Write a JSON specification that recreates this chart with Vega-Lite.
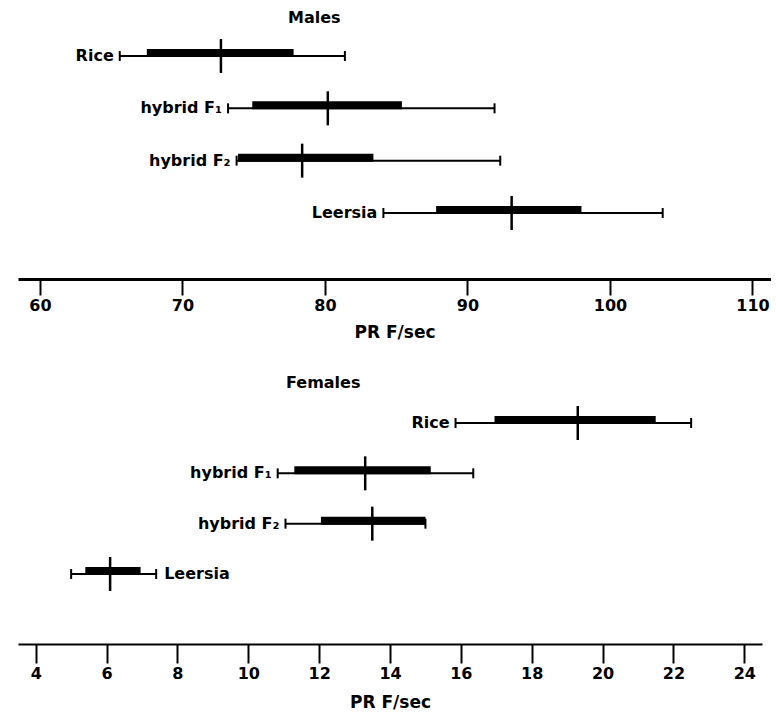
{
  "$schema": "https://vega.github.io/schema/vega-lite/v6.json",
  "padding": {"left": 18, "top": 10, "right": 0, "bottom": 0},
  "autosize": {"type": "pad"},
  "background": "white",
  "spacing": 35,
  "config": {
    "view": {"stroke": null},
    "font": "DejaVu Sans",
    "tick": {"opacity": 1},
    "scale": {"pointPadding": 0},
    "axis": {
      "domainColor": "black", "tickColor": "black", "labelColor": "black", "titleColor": "black",
      "grid": false, "tickWidth": 2, "labelFont": "DejaVu Sans", "labelFontWeight": "bold",
      "labelFontSize": 16, "labelPadding": 2, "labelFlush": false,
      "titleFont": "DejaVu Sans", "titleFontWeight": "bold", "titleFontSize": 17, "titlePadding": 11
    }
  },
  "datasets": {
    "males": [
      {"group": "Rice", "min": 65.6, "lo": 67.5, "mean": 72.7, "hi": 77.8, "max": 81.4},
      {"group": "hybrid F₁", "min": 73.2, "lo": 74.9, "mean": 80.2, "hi": 85.4, "max": 91.9},
      {"group": "hybrid F₂", "min": 73.8, "lo": 73.9, "mean": 78.4, "hi": 83.4, "max": 92.3},
      {"group": "Leersia", "min": 84.1, "lo": 87.8, "mean": 93.1, "hi": 98.0, "max": 103.7}
    ],
    "females": [
      {"group": "Rice", "min": 15.85, "lo": 16.95, "mean": 19.3, "hi": 21.5, "max": 22.5},
      {"group": "hybrid F₁", "min": 10.83, "lo": 11.3, "mean": 13.3, "hi": 15.15, "max": 16.35},
      {"group": "hybrid F₂", "min": 11.05, "lo": 12.05, "mean": 13.5, "hi": 15.0, "max": 15.0},
      {"group": "Leersia", "min": 5.0, "lo": 5.4, "mean": 6.1, "hi": 6.96, "max": 7.4}
    ]
  },
  "vconcat": [
    {
      "width": 753, "height": 248,
      "title": {"text": "Males", "anchor": "start", "dx": 270, "fontSize": 16, "font": "DejaVu Sans", "fontWeight": "bold", "offset": 5, "color": "black"},
      "data": {"name": "males"},
      "encoding": {
        "y": {"field": "group", "type": "nominal", "sort": ["Rice", "hybrid F₁", "hybrid F₂", "Leersia"], "scale": {"type": "point", "padding": 0, "range": [25, 182]}, "axis": null}
      },
      "layer": [
        {"mark": {"type": "rule", "color": "black", "strokeWidth": 2},
         "encoding": {"x": {"field": "min", "type": "quantitative", "scale": {"domain": [58.46, 111.3], "nice": false, "zero": false},
           "axis": {"values": [60, 70, 80, 90, 100, 110], "domainWidth": 3, "tickSize": 16, "title": "PR F/sec"}},
           "x2": {"field": "max"}}},
        {"mark": {"type": "tick", "color": "black", "size": 10, "thickness": 2, "opacity": 1},
         "encoding": {"x": {"field": "min", "type": "quantitative"}}},
        {"mark": {"type": "tick", "color": "black", "size": 10, "thickness": 2, "opacity": 1},
         "encoding": {"x": {"field": "max", "type": "quantitative"}}},
        {"mark": {"type": "bar", "color": "black", "size": 8, "yOffset": -3},
         "encoding": {"x": {"field": "lo", "type": "quantitative"}, "x2": {"field": "hi"}}},
        {"mark": {"type": "tick", "color": "black", "size": 34, "thickness": 2.5, "opacity": 1},
         "encoding": {"x": {"field": "mean", "type": "quantitative"}}},
        {"mark": {"type": "text", "align": "right", "baseline": "middle", "dx": -6, "fontSize": 16, "fontWeight": "bold", "font": "DejaVu Sans", "color": "black"},
         "encoding": {"x": {"field": "min", "type": "quantitative"}, "text": {"field": "group"}}}
      ]
    },
    {
      "width": 744, "height": 248,
      "title": {"text": "Females", "anchor": "start", "dx": 268, "fontSize": 16, "font": "DejaVu Sans", "fontWeight": "bold", "offset": 5, "color": "black"},
      "data": {"name": "females"},
      "encoding": {
        "y": {"field": "group", "type": "nominal", "sort": ["Rice", "hybrid F₁", "hybrid F₂", "Leersia"], "scale": {"type": "point", "padding": 0, "range": [27, 178]}, "axis": null}
      },
      "layer": [
        {"mark": {"type": "rule", "color": "black", "strokeWidth": 2},
         "encoding": {"x": {"field": "min", "type": "quantitative", "scale": {"domain": [3.5, 24.5], "nice": false, "zero": false},
           "axis": {"values": [4, 5, 6, 7, 8, 9, 10, 11, 12, 13, 14, 15, 16, 17, 18, 19, 20, 21, 22, 23, 24],
             "labelExpr": "datum.value % 2 === 0 ? datum.label : ''", "domainWidth": 2, "tickSize": 19, "title": "PR F/sec", "titlePadding": 13}},
           "x2": {"field": "max"}}},
        {"mark": {"type": "tick", "color": "black", "size": 10, "thickness": 2, "opacity": 1},
         "encoding": {"x": {"field": "min", "type": "quantitative"}}},
        {"mark": {"type": "tick", "color": "black", "size": 10, "thickness": 2, "opacity": 1},
         "encoding": {"x": {"field": "max", "type": "quantitative"}}},
        {"mark": {"type": "bar", "color": "black", "size": 8, "yOffset": -3},
         "encoding": {"x": {"field": "lo", "type": "quantitative"}, "x2": {"field": "hi"}}},
        {"mark": {"type": "tick", "color": "black", "size": 34, "thickness": 2.5, "opacity": 1},
         "encoding": {"x": {"field": "mean", "type": "quantitative"}}},
        {"transform": [{"filter": "datum.group !== 'Leersia'"}],
         "mark": {"type": "text", "align": "right", "baseline": "middle", "dx": -6, "fontSize": 16, "fontWeight": "bold", "font": "DejaVu Sans", "color": "black"},
         "encoding": {"x": {"field": "min", "type": "quantitative"}, "text": {"field": "group"}}},
        {"transform": [{"filter": "datum.group === 'Leersia'"}],
         "mark": {"type": "text", "align": "left", "baseline": "middle", "dx": 8, "fontSize": 16, "fontWeight": "bold", "font": "DejaVu Sans", "color": "black"},
         "encoding": {"x": {"field": "max", "type": "quantitative"}, "text": {"field": "group"}}}
      ]
    }
  ]
}
